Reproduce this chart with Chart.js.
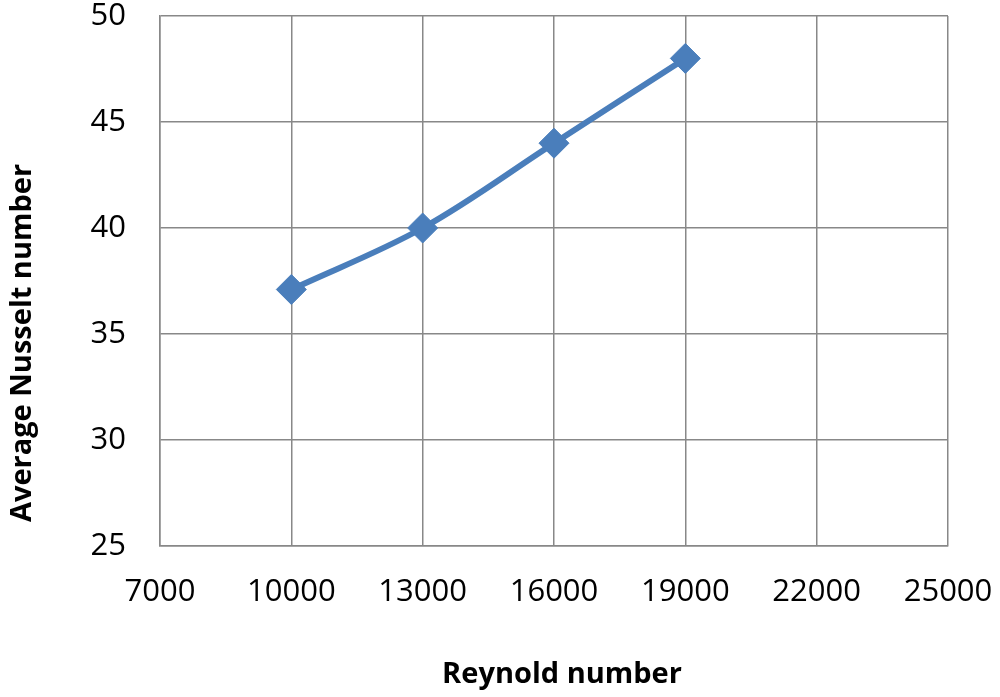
<!DOCTYPE html>
<html>
<head>
<meta charset="utf-8">
<script src="https://cdn.jsdelivr.net/npm/chart.js@4"></script>
<style>
  html, body { margin: 0; padding: 0; background: #fff; }
  #wrap { width: 1000px; height: 697px; position: relative; }
</style>
</head>
<body>
<div id="wrap"><canvas id="chart"></canvas></div>
<script>
// Data
const reynolds = [10000, 13000, 16000, 19000];
const nusselt = [37.1, 40, 44, 48];
const xTicks = [7000, 10000, 13000, 16000, 19000, 22000, 25000];
const yTicks = [25, 30, 35, 40, 45, 50];
const xTitle = 'Reynold number';
const yTitle = 'Average Nusselt number';

const gridColor = '#888888';
const lineColor = '#4a7ebb';

// axis titles drawn at the spots they sit in the picture
const axisTitles = {
  id: 'axisTitles',
  afterDraw(chart) {
    const ctx = chart.ctx;
    ctx.save();
    ctx.fillStyle = '#000';
    ctx.font = 'bold 29px "Open Sans"';
    ctx.textAlign = 'center';
    ctx.textBaseline = 'middle';
    ctx.fillText(xTitle, 562, 675);
    ctx.translate(23, 343);
    ctx.rotate(-Math.PI / 2);
    ctx.fillText(yTitle, 0, 0);
    ctx.restore();
  }
};

const points = reynolds.map((x, i) => ({ x: x, y: nusselt[i] }));

new Chart(document.getElementById('chart'), {
  type: 'line',
  data: {
    datasets: [{
      label: yTitle,
      data: points,
      borderColor: lineColor,
      backgroundColor: lineColor,
      borderWidth: 6,
      tension: 0.35,
      pointStyle: 'rectRot',
      pointRadius: 15,
      pointBorderWidth: 1,
      pointBackgroundColor: lineColor,
      pointBorderColor: lineColor
    }]
  },
  options: {
    responsive: true,
    maintainAspectRatio: false,
    animation: false,
    layout: { padding: { top: 13, right: 52, left: 0, bottom: 0 } },
    plugins: {
      legend: { display: false },
      tooltip: { enabled: false }
    },
    scales: {
      x: {
        type: 'linear',
        min: xTicks[0],
        max: xTicks[xTicks.length - 1],
        afterBuildTicks: s => { s.ticks = xTicks.map(v => ({ value: v })); },
        afterFit: s => { s.height = 151; s.paddingLeft = 0; s.paddingRight = 0; },
        grid: { color: gridColor, lineWidth: 1.5, drawTicks: false },
        border: { color: gridColor, width: 1.5 },
        ticks: {
          padding: 28,
          color: '#000',
          font: { family: 'Open Sans', size: 31 },
          maxRotation: 0,
          callback: v => String(v)
        }
      },
      y: {
        min: yTicks[0],
        max: yTicks[yTicks.length - 1],
        afterBuildTicks: s => { s.ticks = yTicks.map(v => ({ value: v })); },
        afterFit: s => { s.width = 160; s.paddingTop = 0; s.paddingBottom = 0; },
        grid: { color: gridColor, lineWidth: 1.5, drawTicks: false },
        border: { color: gridColor, width: 1.5 },
        ticks: {
          padding: 34,
          color: '#000',
          font: { family: 'Open Sans', size: 31 },
          callback: v => String(v)
        }
      }
    }
  },
  plugins: [axisTitles]
});
</script>
</body>
</html>
